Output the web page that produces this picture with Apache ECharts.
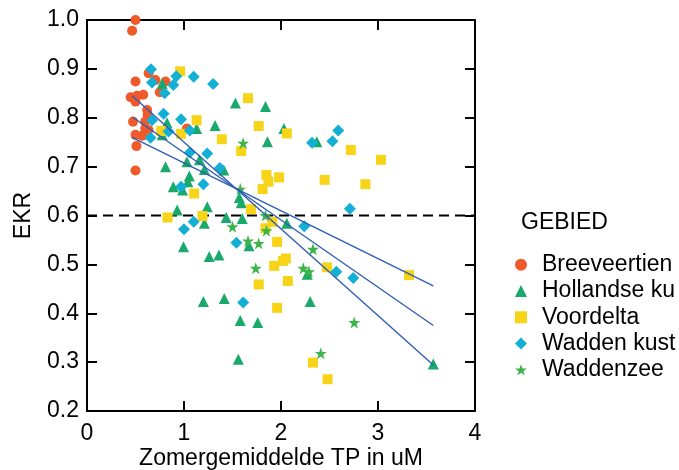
<!DOCTYPE html>
<html><head><meta charset="utf-8">
<script src="https://cdn.jsdelivr.net/npm/echarts@6/dist/echarts.min.js"></script>
<style>html,body{margin:0;padding:0;background:#fff}#c{width:679px;height:470px}</style>
</head><body><div id="c"></div>
<script>
// ---- data ----
const seriesNames = ['Breeveertien', 'Hollandse ku', 'Voordelta', 'Wadden kust', 'Waddenzee'];
const legendTitle = 'GEBIED';
const xAxisName = 'Zomergemiddelde TP in uM';
const yAxisName = 'EKR';
const thresholdY = 0.6;

const breeveertien = [[0.50,1.0],[0.465,0.978],[0.50,0.874],[0.635,0.891],[0.705,0.877],[0.81,0.874],[0.75,0.852],[0.45,0.842],[0.515,0.845],[0.58,0.847],[0.50,0.833],[0.62,0.816],[0.625,0.806],[0.475,0.792],[0.60,0.792],[0.60,0.778],[0.50,0.765],[0.57,0.763],[0.635,0.775],[0.51,0.742],[0.50,0.692],[1.03,0.778]];
const hollandseKust = [[0.775,0.870],[1.53,0.830],[1.84,0.823],[0.825,0.790],[1.13,0.778],[1.32,0.784],[2.03,0.778],[0.775,0.765],[1.86,0.751],[2.37,0.751],[1.03,0.710],[1.16,0.714],[0.81,0.700],[1.21,0.694],[1.055,0.681],[1.41,0.693],[1.04,0.669],[0.89,0.659],[0.985,0.652],[1.57,0.637],[1.59,0.626],[1.24,0.618],[0.93,0.611],[1.435,0.596],[1.60,0.594],[2.06,0.584],[1.21,0.584],[0.995,0.536],[1.67,0.538],[1.26,0.516],[1.36,0.519],[2.27,0.480],[1.415,0.430],[2.30,0.424],[1.20,0.424],[1.58,0.385],[1.76,0.381],[1.56,0.306],[3.57,0.296]];
const voordelta = [[0.96,0.895],[1.66,0.840],[1.13,0.795],[1.77,0.783],[2.06,0.768],[0.765,0.773],[0.97,0.767],[1.39,0.756],[1.59,0.732],[2.72,0.734],[3.03,0.714],[1.85,0.683],[1.98,0.678],[1.87,0.669],[2.45,0.673],[2.87,0.664],[1.81,0.654],[1.105,0.645],[1.69,0.613],[0.83,0.596],[1.19,0.599],[1.91,0.587],[1.84,0.574],[1.96,0.546],[2.05,0.512],[2.02,0.507],[1.93,0.497],[2.475,0.494],[3.32,0.478],[1.77,0.459],[2.07,0.466],[1.96,0.411],[2.33,0.299],[2.48,0.265]];
const waddenKust = [[0.66,0.899],[0.67,0.872],[0.92,0.885],[1.10,0.884],[1.30,0.869],[0.89,0.867],[0.80,0.850],[0.79,0.808],[0.97,0.797],[0.67,0.795],[0.84,0.772],[1.06,0.774],[0.655,0.759],[2.32,0.749],[2.53,0.752],[2.59,0.774],[1.06,0.729],[1.24,0.727],[1.37,0.697],[1.20,0.664],[0.97,0.659],[2.71,0.614],[1.10,0.587],[1.00,0.572],[2.24,0.578],[1.54,0.544],[2.57,0.485],[2.745,0.472],[1.61,0.422]];
const waddenzee = [[1.61,0.748],[1.58,0.654],[1.84,0.600],[1.50,0.577],[1.85,0.569],[1.66,0.548],[1.77,0.543],[2.33,0.531],[1.74,0.492],[2.23,0.492],[2.29,0.485],[2.41,0.318],[2.755,0.381]];

// three straight fit lines (start and end points)
const fitLine1 = [[0.465,0.845],[3.57,0.294]];
const fitLine2 = [[0.465,0.802],[3.57,0.375]];
const fitLine3 = [[0.465,0.760],[3.57,0.456]];

// ---- styling ----
const FONT = "'Liberation Sans', Arial, sans-serif";
const FS = 23;

const colors = ['#EF5A2A','#19A96B','#F7D418','#13AFD5','#3CB44B'];
const symbols = ['circle','triangle','rect','diamond','path://M50,0 L61.8,35.1 L98.9,35.1 L68.9,56.9 L80.3,92.1 L50,70.4 L19.7,92.1 L31.1,56.9 L1.1,35.1 L38.2,35.1 Z'];
const sizes = [10,11,10,12,12];
const pointSets = [breeveertien, hollandseKust, voordelta, waddenKust, waddenzee];

const axisLine = {show:true, onZero:false, lineStyle:{color:'#000', width:2}};
const axisTick = {show:true, inside:true, length:10, lineStyle:{color:'#000', width:2}};

const series = pointSets.map((d,i)=>({
  type:'scatter', name:seriesNames[i], data:d, symbol:symbols[i], symbolSize:sizes[i],
  itemStyle:{color:colors[i], opacity:1}, z:2+i
}));
series.push({type:'line', data:[[0,thresholdY],[4,thresholdY]], symbol:'none', silent:true,
  lineStyle:{color:'#000', width:2, type:[10,6]}, z:1});
[fitLine1, fitLine2, fitLine3].forEach(l=>series.push({type:'line', data:l, symbol:'none', silent:true,
  lineStyle:{color:'#2F5DB5', width:1.4}, z:10}));

const chart = echarts.init(document.getElementById('c'), null, {renderer:'canvas'});
chart.setOption({
  animation:false,
  backgroundColor:'#fff',
  textStyle:{fontFamily:FONT},
  title:{text:legendTitle, left:521, top:211, padding:0,
    textStyle:{fontFamily:FONT, fontSize:FS, fontWeight:'normal', color:'#000'}},
  legend:{orient:'vertical', left:515, top:251.5, padding:0, itemGap:0,
    itemWidth:12, itemHeight:12,
    data:seriesNames.map((n,i)=>({name:n, icon:symbols[i]})),
    textStyle:{fontFamily:FONT, fontSize:FS, color:'#000', lineHeight:26.3, padding:[0,0,0,10]}},
  grid:{left:87, top:20, width:388, height:391, containLabel:false, outerBoundsMode:'none'},
  xAxis:[
    {type:'value', min:0, max:4, interval:1, position:'bottom', axisLine, axisTick,
     splitLine:{show:false},
     axisLabel:{fontFamily:FONT, fontSize:FS, color:'#000', margin:11},
     name:xAxisName, nameLocation:'middle', nameGap:36, nameMoveOverlap:false,
     nameTextStyle:{fontFamily:FONT, fontSize:FS, color:'#000'}},
    {type:'value', min:0, max:4, interval:1, position:'top', axisLine, axisTick,
     splitLine:{show:false}, axisLabel:{show:false}}
  ],
  yAxis:[
    {type:'value', min:0.2, max:1.0, interval:0.1, position:'left', axisLine, axisTick,
     splitLine:{show:false},
     axisLabel:{fontFamily:FONT, fontSize:FS, color:'#000', margin:8, formatter:v=>v.toFixed(1)},
     name:yAxisName, nameLocation:'middle', nameGap:52, nameRotate:90, nameMoveOverlap:false,
     nameTextStyle:{fontFamily:FONT, fontSize:FS, color:'#000'}},
    {type:'value', min:0.2, max:1.0, interval:0.1, position:'right', axisLine, axisTick,
     splitLine:{show:false}, axisLabel:{show:false}}
  ],
  series
});
</script>
</body></html>
